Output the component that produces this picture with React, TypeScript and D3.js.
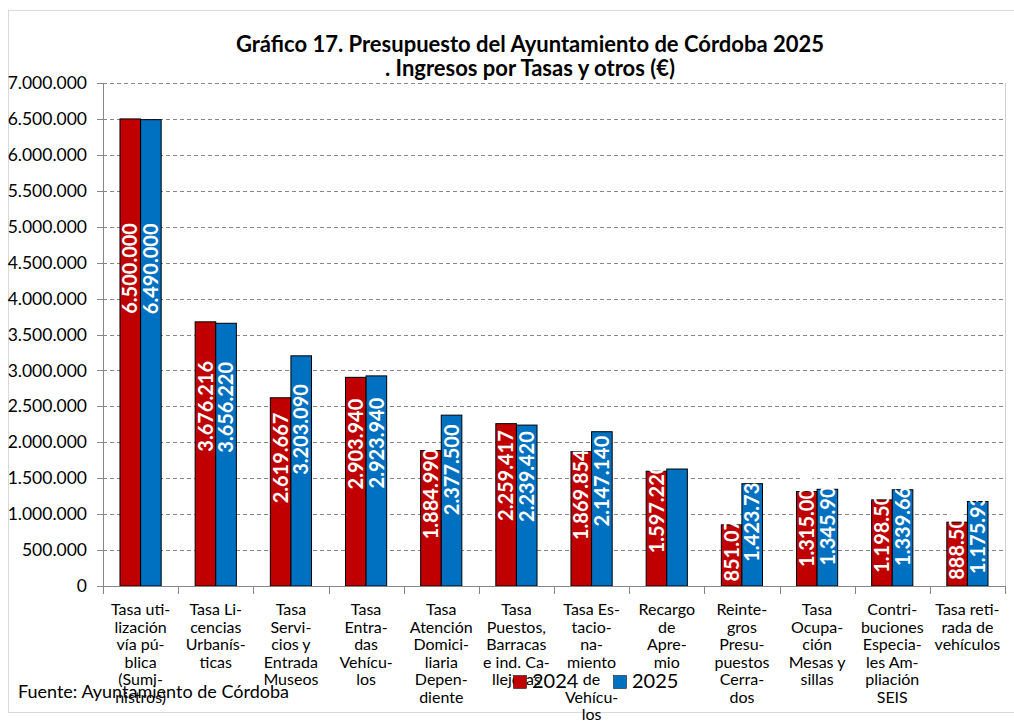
import React from "react";
import * as d3 from "d3";

const title1 = "Gráfico 17. Presupuesto del Ayuntamiento de Córdoba 2025";
const title2 = ". Ingresos por Tasas y otros (€)";
const source = "Fuente: Ayuntamiento de Córdoba";

const categories: string[][] = [
  ["Tasa uti-", "lización", "vía pú-", "blica", "(Sumi-", "nistros)"],
  ["Tasa Li-", "cencias", "Urbanís-", "ticas"],
  ["Tasa", "Servi-", "cios y", "Entrada", "Museos"],
  ["Tasa", "Entra-", "das", "Vehícu-", "los"],
  ["Tasa", "Atención", "Domici-", "liaria", "Depen-", "diente"],
  ["Tasa", "Puestos,", "Barracas", "e ind. Ca-", "llejeras"],
  ["Tasa Es-", "tacio-", "na-", "miento", "de", "Vehícu-", "los"],
  ["Recargo", "de", "Apre-", "mio"],
  ["Reinte-", "gros", "Presu-", "puestos", "Cerra-", "dos"],
  ["Tasa", "Ocupa-", "ción", "Mesas y", "sillas"],
  ["Contri-", "buciones", "Especia-", "les Am-", "pliación", "SEIS"],
  ["Tasa reti-", "rada de", "vehículos"],
];

const values2024 = [6500000, 3676216, 2619667, 2903940, 1884990, 2259417, 1869854, 1597220, 851070, 1315000, 1198500, 888500];
const values2025 = [6490000, 3656220, 3203090, 2923940, 2377500, 2239420, 2147140, 1628000, 1423730, 1345900, 1339660, 1175930];
const labeled2025 = [true, true, true, true, true, true, true, false, true, true, true, true];

const seriesNames = ["2024", "2025"];
const seriesColors = ["#C00000", "#0070C0"];
const yTicks = [0, 500000, 1000000, 1500000, 2000000, 2500000, 3000000, 3500000, 4000000, 4500000, 5000000, 5500000, 6000000, 6500000, 7000000];

const locale = d3.formatLocale({ decimal: ",", thousands: ".", grouping: [3], currency: ["", "€"] });
const fmt = locale.format(",.0f");

const W = 1014;
const H = 724;
const left = 103;
const right = 1005;
const top = 83;
const bottom = 586;
const FONT = "Lato, 'Open Sans', sans-serif";

export default function App() {
  const idx = categories.map((_, i) => String(i));
  const x = d3.scaleBand<string>().domain(idx).range([left, right]).padding(0);
  const step = x.bandwidth();
  const xs = d3
    .scaleBand<string>()
    .domain(seriesNames)
    .range([step * 0.226, step * 0.774])
    .padding(0);
  const y = d3.scaleLinear().domain([0, 7000000]).range([bottom, top]);
  const series = [values2024, values2025];

  return (
    <div style={{ position: "absolute", left: 0, top: 0 }}>
      <svg width={W} height={H} style={{ display: "block", background: "#fff" }} fontFamily={FONT}>
        <rect x={8.5} y={10.5} width={W + 10} height={702} fill="#fff" stroke="#d9d9d9" strokeWidth={1} />
        <text x={530} y={52} textAnchor="middle" fontSize={22} fontWeight="bold" fill="#000">{title1}</text>
        <text x={530} y={76} textAnchor="middle" fontSize={22} fontWeight="bold" fill="#000">{title2}</text>

        {/* gridlines */}
        {yTicks.filter((t) => t > 0).map((t) => (
          <line key={"g" + t} x1={left} x2={right} y1={Math.round(y(t)) + 0.5} y2={Math.round(y(t)) + 0.5}
            stroke="#868686" strokeWidth={1} strokeDasharray="4,3" />
        ))}
        <line x1={right + 0.5} x2={right + 0.5} y1={top} y2={bottom} stroke="#d0d0d0" strokeWidth={1} />

        {/* y axis */}
        <line x1={left + 0.5} x2={left + 0.5} y1={top} y2={bottom} stroke="#868686" strokeWidth={1} />
        {yTicks.map((t) => (
          <g key={"t" + t}>
            <line x1={left - 6} x2={left} y1={Math.round(y(t)) + 0.5} y2={Math.round(y(t)) + 0.5} stroke="#868686" />
            <text x={left - 16} y={y(t)} dy="0.35em" textAnchor="end" fontSize={17.5} fill="#000">{fmt(t)}</text>
          </g>
        ))}

        {/* bars */}
        {categories.map((_, i) => (
          <g key={"c" + i} transform={`translate(${x(String(i))},0)`}>
            {series.map((vals, s) => {
              const v = vals[i];
              const bx = xs(seriesNames[s])!;
              const bw = xs.bandwidth();
              const yt = y(v);
              const h = bottom - yt;
              return (
                <rect key={s} x={bx} y={yt} width={bw} height={h} fill={seriesColors[s]} stroke="#000" strokeWidth={1} />
              );
            })}
          </g>
        ))}
        {categories.map((_, i) => (
          <g key={"l" + i} transform={`translate(${x(String(i))},0)`}>
            {series.map((vals, s) => {
              if (s === 1 && !labeled2025[i]) return null;
              const v = vals[i];
              const bx = xs(seriesNames[s])!;
              const bw = xs.bandwidth();
              const yt = y(v);
              const h = bottom - yt;
              const cy = yt + 0.32 * h;
              const cx = bx + bw / 2;
              return (
                <text key={s} transform={`translate(${cx},${cy}) rotate(-90)`} textAnchor="middle" dy="0.36em"
                  fontSize={20} fontWeight="bold" fill="#fff">{fmt(v)}</text>
              );
            })}
          </g>
        ))}

        {/* x axis */}
        <line x1={left} x2={right} y1={bottom + 0.5} y2={bottom + 0.5} stroke="#868686" strokeWidth={1} />
        {idx.concat([String(categories.length)]).map((k, j) => {
          const xx = Math.round(left + j * step) + 0.5;
          return <line key={"xt" + j} x1={xx} x2={xx} y1={bottom} y2={bottom + 8} stroke="#868686" />;
        })}
        {categories.map((lines, i) => (
          <text key={"xl" + i} textAnchor="middle" fontSize={16} fill="#000">
            {lines.map((ln, j) => (
              <tspan key={j} x={x(String(i))! + step / 2} y={615 + j * 17.5}>{ln}</tspan>
            ))}
          </text>
        ))}

        <text x={18} y={698} fontSize={18} fill="#000">{source}</text>

        {/* legend */}
        {seriesNames.map((n, s) => (
          <g key={"lg" + s} transform={`translate(${513 + s * 100},675)`}>
            <rect x={0.5} y={0.5} width={13} height={13} fill={seriesColors[s]} stroke="#000" strokeWidth={0.5} />
            <text x={19} y={13} fontSize={20} fill="#000">{n}</text>
          </g>
        ))}
      </svg>
    </div>
  );
}
